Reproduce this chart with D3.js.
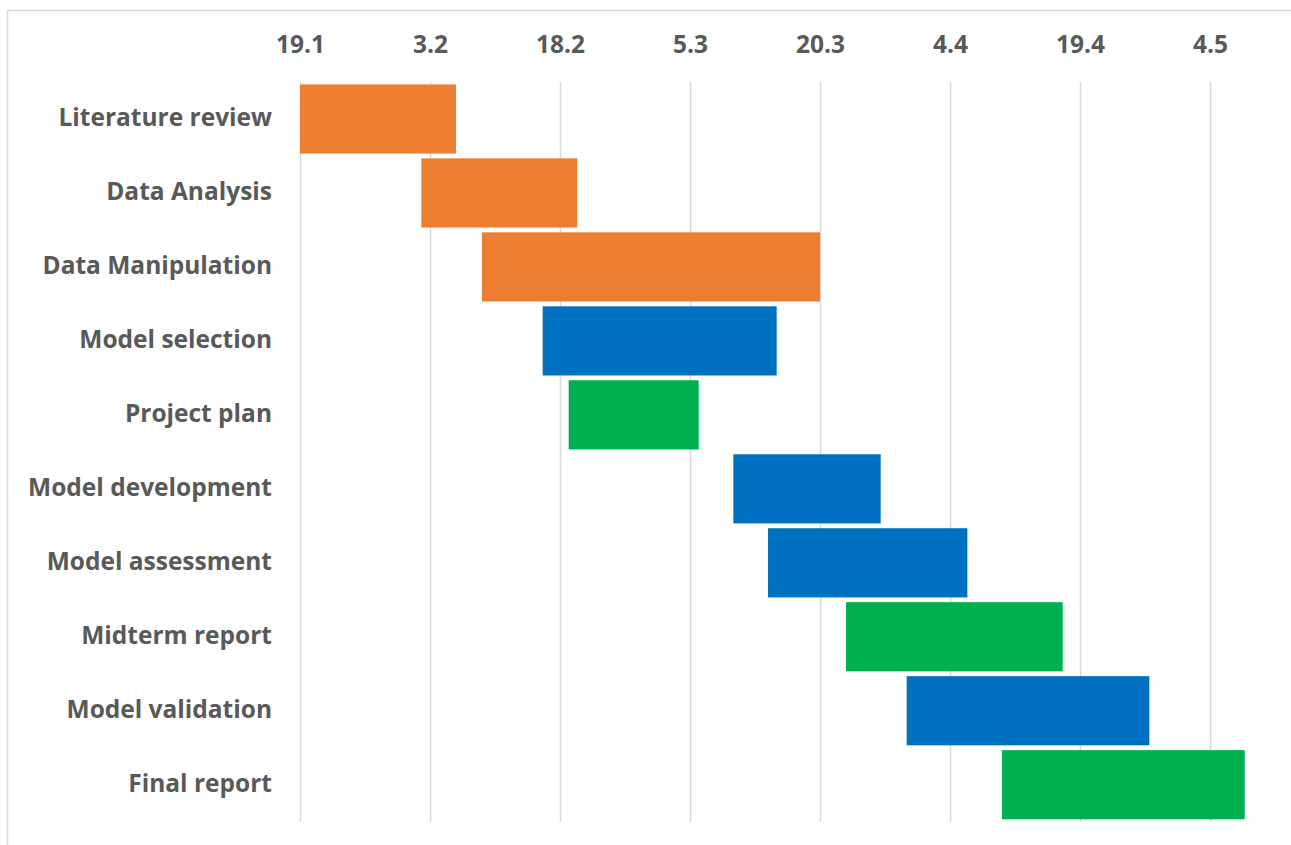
<!DOCTYPE html>
<html><head><meta charset="utf-8">
<script src="https://cdn.jsdelivr.net/npm/d3@7"></script>
<style>
html,body{margin:0;padding:0;background:#fff;}
svg{display:block;}
</style></head>
<body>
<svg id="chart" width="1291" height="845"></svg>
<script>
const tasks = ["Literature review","Data Analysis","Data Manipulation","Model selection","Project plan","Model development","Model assessment","Midterm report","Model validation","Final report"];
const startDates = ["2021-01-19","2021-02-02","2021-02-09","2021-02-16","2021-02-19","2021-03-10","2021-03-14","2021-03-23","2021-03-30","2021-04-10"];
const endDates = ["2021-02-06","2021-02-20","2021-03-20","2021-03-15","2021-03-06","2021-03-27","2021-04-06","2021-04-17","2021-04-27","2021-05-08"];
const groups = ["research","research","research","model","report","model","model","report","model","report"];
const groupNames = ["research","model","report"];
const groupColors = ["#ED7D31","#0070C0","#00B050"];
const tickDates = ["2021-01-19","2021-02-03","2021-02-18","2021-03-05","2021-03-20","2021-04-04","2021-04-19","2021-05-04"];
const axisDomain = ["2021-01-19","2021-05-08"];

const parse = d3.timeParse("%Y-%m-%d");
const data = tasks.map((t,i)=>({task:t,start:parse(startDates[i]),end:parse(endDates[i]),group:groups[i]}));

const svg = d3.select("#chart");
const font = "'Open Sans', Lato, sans-serif";
const textColor = "#595959";

// chart border
svg.append("rect").attr("x",7.5).attr("y",10.5).attr("width",1400).attr("height",900)
  .attr("fill","none").attr("stroke","#D9D9D9").attr("stroke-width",1.5);

const x = d3.scaleTime().domain(axisDomain.map(parse)).range([300,1244.7]);
const y = d3.scaleBand().domain(tasks).range([82,821.7]).paddingInner(0.065).paddingOuter(0.0325);
const color = d3.scaleOrdinal().domain(groupNames).range(groupColors);

// gridlines
const xAxis = d3.axisTop(x).tickValues(tickDates.map(parse)).tickFormat(d3.timeFormat("%-d.%-m")).tickSize(-(821.7-82)).tickPadding(0);
const gx = svg.append("g").attr("transform","translate(0,82)").call(xAxis);
gx.select(".domain").remove();
gx.selectAll(".tick line").attr("stroke","#D9D9D9").attr("stroke-width",1.5);
gx.selectAll(".tick text").attr("y",-29).attr("fill",textColor)
  .style("font-family",font).style("font-size","24.5px").style("font-weight","700");

// bars
svg.append("g").selectAll("rect").data(data).join("rect")
  .attr("x",d=>x(d.start)).attr("y",d=>y(d.task))
  .attr("width",d=>x(d.end)-x(d.start)).attr("height",y.bandwidth())
  .attr("fill",d=>color(d.group));

// y labels
const yAxis = d3.axisLeft(y).tickSize(0).tickPadding(0);
const gy = svg.append("g").attr("transform","translate(272,-1)").call(yAxis);
gy.select(".domain").remove();
gy.selectAll(".tick text").attr("fill",textColor)
  .style("font-family",font).style("font-size","24.5px").style("font-weight","700");
</script>
</body></html>
